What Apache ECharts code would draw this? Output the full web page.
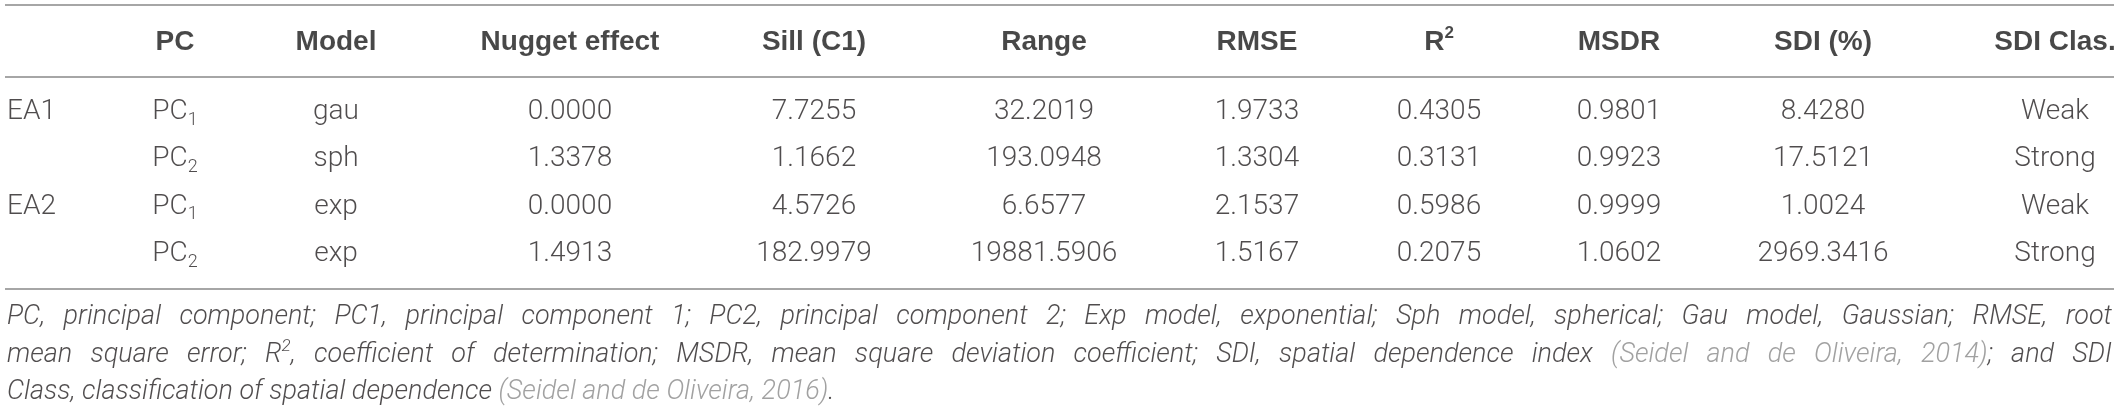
<!DOCTYPE html>
<html><head><meta charset="utf-8">
<script src="https://cdn.jsdelivr.net/npm/echarts@6/dist/echarts.min.js"></script>
<style>html,body{margin:0;padding:0;background:#fff}#c{width:2118px;height:413px}</style>
</head><body><div id="c"></div>
<script>
// ---- data ----
const headers = ['', 'PC', 'Model', 'Nugget effect', 'Sill (C1)', 'Range', 'RMSE', 'R^2', 'MSDR', 'SDI (%)', 'SDI Clas.'];
const areas = ['EA1', '', 'EA2', ''];
const pcIndex = [1, 2, 1, 2];
const models = ['gau', 'sph', 'exp', 'exp'];
const nugget = [0.0000, 1.3378, 0.0000, 1.4913];
const sill = [7.7255, 1.1662, 4.5726, 182.9979];
const rangeVals = [32.2019, 193.0948, 6.6577, 19881.5906];
const rmse = [1.9733, 1.3304, 2.1537, 1.5167];
const r2 = [0.4305, 0.3131, 0.5986, 0.2075];
const msdr = [0.9801, 0.9923, 0.9999, 1.0602];
const sdi = [8.4280, 17.5121, 1.0024, 2969.3416];
const sdiClass = ['Weak', 'Strong', 'Weak', 'Strong'];
// footnote: [text, kind]  kind: n = normal, g = citation (grey), s = superscript
const footnoteLines = [
  [['PC, principal component; PC1, principal component 1; PC2, principal component 2; Exp model, exponential; Sph model, spherical; Gau model, Gaussian; RMSE, root', 'n']],
  [['mean square error; R', 'n'], ['2', 's'], [', coefficient of determination; MSDR, mean square deviation coefficient; SDI, spatial dependence index ', 'n'], ['(Seidel and de Oliveira, 2014)', 'g'], ['; and SDI', 'n']],
  [['Class, classification of spatial dependence ', 'n'], ['(Seidel and de Oliveira, 2016)', 'g'], ['.', 'n']]
];
const footnoteJustify = [true, true, false];

// ---- layout ----
const W = 2118, H = 413;
const colX = [7, 175, 336, 570, 814, 1044, 1257, 1439, 1619, 1823, 2055];
const headerY = 42;
const rowY = [112, 159, 206.5, 254];
const ruleY = [5, 77, 289];
const ruleX = [5, 2114];
const noteY = [317, 355, 392];
const noteRight = 2112;

const BODY = 'Roboto';
const TXT = '#231f20';
const rich = {
  b: { fontFamily: BODY, fontWeight: 300, fontSize: 28, color: TXT, lineHeight: 34 },
  sub: { fontFamily: BODY, fontWeight: 300, fontSize: 18, color: TXT, lineHeight: 20, verticalAlign: 'bottom' },
  h: { fontFamily: 'Liberation Sans', fontWeight: 'bold', fontSize: 28, color: '#1a1a1a', lineHeight: 34 },
  hsup: { fontFamily: 'Liberation Sans', fontWeight: 'bold', fontSize: 17, color: '#1a1a1a', lineHeight: 20, verticalAlign: 'top' },
  n: { fontFamily: BODY, fontWeight: 300, fontStyle: 'italic', fontSize: 27, color: TXT, lineHeight: 34 },
  g: { fontFamily: BODY, fontWeight: 300, fontStyle: 'italic', fontSize: 27, color: '#8a8a8a', lineHeight: 34 },
  s: { fontFamily: BODY, fontWeight: 300, fontStyle: 'italic', fontSize: 17, color: TXT, lineHeight: 22, verticalAlign: 'top' }
};

// text measuring for justified footnote lines
const mctx = document.createElement('canvas').getContext('2d');
function tw(text, st) {
  mctx.font = (st.fontStyle || 'normal') + ' ' + (st.fontWeight || 'normal') + ' ' + st.fontSize + 'px ' + st.fontFamily;
  return mctx.measureText(text).width;
}

const f4 = v => v.toFixed(4);
const cells = [];
function cell(x, y, txt, align) {
  cells.push({ value: [x, y], label: { formatter: txt, align: align || 'center' } });
}
headers.forEach((h, c) => {
  if (!h) return;
  const t = h === 'R^2' ? '{h|R}{hsup|2}' : '{h|' + h + '}';
  cell(colX[c], headerY, t);
});
rowY.forEach((y, r) => {
  if (areas[r]) cell(colX[0], y, '{b|' + areas[r] + '}', 'left');
  cell(colX[1], y, '{b|PC}{sub|' + pcIndex[r] + '}');
  cell(colX[2], y, '{b|' + models[r] + '}');
  cell(colX[3], y, '{b|' + f4(nugget[r]) + '}');
  cell(colX[4], y, '{b|' + f4(sill[r]) + '}');
  cell(colX[5], y, '{b|' + f4(rangeVals[r]) + '}');
  cell(colX[6], y, '{b|' + f4(rmse[r]) + '}');
  cell(colX[7], y, '{b|' + f4(r2[r]) + '}');
  cell(colX[8], y, '{b|' + f4(msdr[r]) + '}');
  cell(colX[9], y, '{b|' + f4(sdi[r]) + '}');
  cell(colX[10], y, '{b|' + sdiClass[r] + '}');
});
footnoteLines.forEach((line, i) => {
  const toks = [];
  line.forEach(([t, k]) => {
    t.split(' ').forEach((part, j) => {
      if (j > 0) toks.push(null);
      if (part !== '') toks.push([part, k]);
    });
  });
  let wordsW = 0, nSp = 0;
  toks.forEach(tk => { if (tk) wordsW += tw(tk[0], rich[tk[1]]); else nSp++; });
  let spW = tw(' ', rich.n);
  if (footnoteJustify[i] && nSp) spW = (noteRight - colX[0] - wordsW) / nSp;
  const spName = 'sp' + i;
  rich[spName] = { fontFamily: BODY, fontSize: 27, lineHeight: 34, width: spW };
  const str = toks.map(tk => tk ? '{' + tk[1] + '|' + tk[0] + '}' : '{' + spName + '| }').join('');
  cell(colX[0], noteY[i], str, 'left');
});

const chart = echarts.init(document.getElementById('c'), null, { renderer: 'canvas' });
chart.setOption({
  animation: false,
  backgroundColor: '#ffffff',
  grid: { left: 0, right: 0, top: 0, bottom: 0 },
  xAxis: { type: 'value', min: 0, max: W, show: false },
  yAxis: { type: 'value', min: 0, max: H, inverse: true, show: false },
  series: [{
    type: 'scatter',
    silent: true,
    symbolSize: 1,
    itemStyle: { color: 'rgba(0,0,0,0)' },
    label: { show: true, position: 'inside', verticalAlign: 'middle', rich: rich },
    data: cells,
    markLine: {
      silent: true,
      symbol: 'none',
      label: { show: false },
      lineStyle: { color: '#a6a6a6', width: 2, type: 'solid' },
      data: ruleY.map(y => [{ coord: [ruleX[0], y] }, { coord: [ruleX[1], y] }])
    }
  }]
});
</script>
</body></html>
